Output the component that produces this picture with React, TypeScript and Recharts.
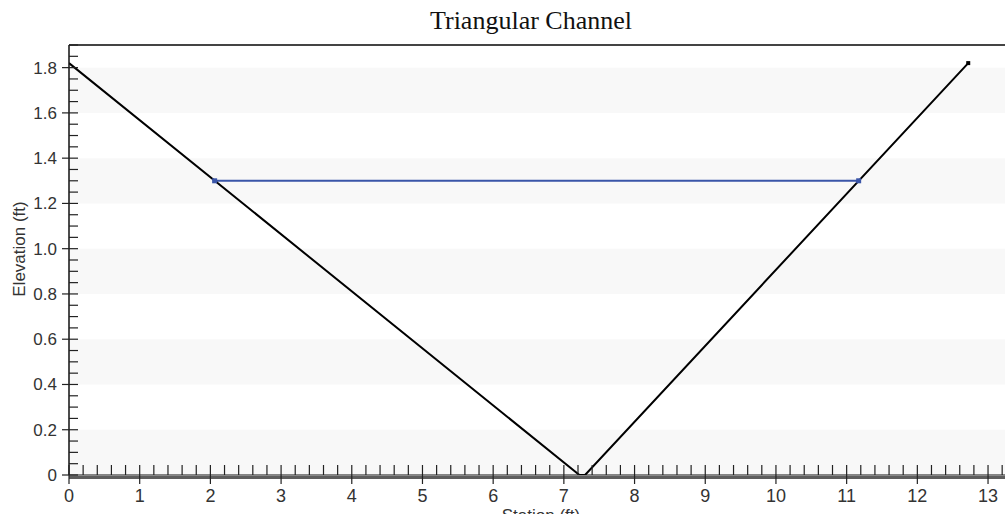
import { ComposedChart, Line, XAxis, YAxis, ReferenceArea, ReferenceLine } from 'recharts';

// channel cross-section (station ft, elevation ft)
const profileStation = [0, 7.22, 7.3, 12.72];
const profileElevation = [1.82, 0, 0, 1.82];

// water surface
const waterStation = [2.06, 11.17];
const waterElevation = [1.3, 1.3];

// shaded bands behind the plot
const bandFrom = [0, 0.4, 0.8, 1.2, 1.6];
const bandTo = [0.2, 0.6, 1.0, 1.4, 1.8];

const xMajorTicks = [0, 1, 2, 3, 4, 5, 6, 7, 8, 9, 10, 11, 12, 13];
const xMinorTicks = Array.from({ length: 67 }, (_, i) => +(i * 0.2).toFixed(1));
const yMajorTicks = [0, 0.2, 0.4, 0.6, 0.8, 1.0, 1.2, 1.4, 1.6, 1.8];
const yMinorTicks = Array.from({ length: 39 }, (_, i) => +(i * 0.05).toFixed(2));

const profile = profileStation.map((x, i) => ({ x, y: profileElevation[i] }));
const water = waterStation.map((x, i) => ({ x, y: waterElevation[i] }));

const FONT = '"Liberation Sans", Arial, sans-serif';

const isMajor = (v: number, list: number[]) => list.some((m) => Math.abs(m - v) < 1e-6);

function XTick(props: any) {
  const { x, y, payload } = props;
  const major = isMajor(payload.value, xMajorTicks);
  return (
    <g>
      <line x1={x} x2={x} y1={y - 10} y2={major ? y + 9 : y} stroke="#222" strokeWidth={1.2} />
      {major && (
        <text x={x} y={y + 27} textAnchor="middle" fontSize={18} fontFamily={FONT} fill="#333">
          {payload.value}
        </text>
      )}
    </g>
  );
}

function YTick(props: any) {
  const { x, y, payload } = props;
  const major = isMajor(payload.value, yMajorTicks);
  const v = payload.value as number;
  return (
    <g>
      <line x1={major ? x - 7 : x} x2={x + 9} y1={y} y2={y} stroke="#222" strokeWidth={1.2} />
      {major && (
        <text x={x - 12} y={y + 6} textAnchor="end" fontSize={17} fontFamily={FONT} fill="#333">
          {v === 0 ? '0' : v.toFixed(1)}
        </text>
      )}
    </g>
  );
}

const EndDot = (props: any) => {
  const { cx, cy, index, color, size } = props;
  if (index !== props.last) return <g key={index} />;
  return <rect key={index} x={cx - size / 2} y={cy - size / 2} width={size} height={size} fill={color} />;
};

export default function App() {
  return (
    <div style={{ position: 'absolute', left: 0, top: 0, width: 1005, height: 514, background: '#fff' }}>
      <div
        style={{
          position: 'absolute',
          left: 0,
          top: 8,
          width: 1062,
          textAlign: 'center',
          fontFamily: '"Liberation Serif", "Times New Roman", serif',
          fontSize: 26,
          lineHeight: '26px',
          color: '#111',
        }}
      >
        Triangular Channel
      </div>
      <ComposedChart width={1005} height={514} margin={{ top: 45, right: 0, bottom: 0, left: 0 }}>
        {bandFrom.map((from, i) => (
          <ReferenceArea key={i} y1={from} y2={bandTo[i]} fill="#f8f8f8" fillOpacity={1} stroke="none" />
        ))}
        <XAxis
          dataKey="x"
          type="number"
          domain={[0, 13.24]}
          ticks={xMinorTicks}
          interval={0}
          height={39}
          tickSize={0}
          tickMargin={0}
          tickLine={false}
          tick={<XTick />}
          axisLine={{ stroke: '#5e5e5e', strokeWidth: 3, transform: 'translate(0,2.5)' }}
          allowDataOverflow
          label={{
            content: ({ viewBox }: any) => (
              <text
                x={viewBox.x + viewBox.width / 2 + 4}
                y={viewBox.y + viewBox.height + 7}
                textAnchor="middle"
                fontSize={17}
                fontFamily={FONT}
                fill="#333"
              >
                Station (ft)
              </text>
            ),
          }}
        />
        <YAxis
          type="number"
          domain={[0, 1.9]}
          ticks={yMinorTicks}
          interval={0}
          width={69}
          tickSize={0}
          tickMargin={0}
          tickLine={false}
          tick={<YTick />}
          axisLine={{ stroke: '#111', strokeWidth: 1.5 }}
          allowDataOverflow
          label={{
            content: () => (
              <text
                x={25}
                y={249}
                transform="rotate(-90 25 249)"
                textAnchor="middle"
                fontSize={17}
                fontFamily={FONT}
                fill="#333"
              >
                Elevation (ft)
              </text>
            ),
          }}
        />
        <ReferenceLine y={0} stroke="#111" strokeWidth={1} />
        <ReferenceLine y={1.9} stroke="#444" strokeWidth={2} />
        <Line
          data={water}
          dataKey="y"
          type="linear"
          stroke="#3a55a8"
          strokeWidth={2}
          dot={(p: any) => <EndDot {...p} last={p.index} color="#3a55a8" size={5} />}
          activeDot={false}
          isAnimationActive={false}
        />
        <Line
          data={profile}
          dataKey="y"
          type="linear"
          stroke="#000"
          strokeWidth={2}
          dot={(p: any) => <EndDot {...p} last={profile.length - 1} color="#000" size={4} />}
          activeDot={false}
          isAnimationActive={false}
        />
      </ComposedChart>
    </div>
  );
}
